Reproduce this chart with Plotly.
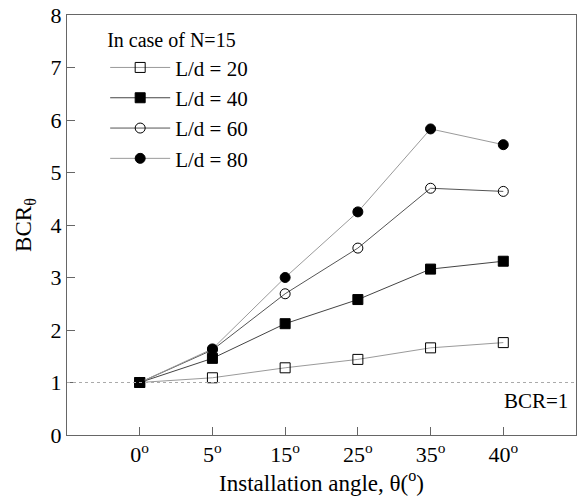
import plotly.graph_objects as go

angles = ["0<sup>o</sup>", "5<sup>o</sup>", "15<sup>o</sup>", "25<sup>o</sup>", "35<sup>o</sup>", "40<sup>o</sup>"]
ld20 = [1.0, 1.09, 1.28, 1.44, 1.66, 1.76]
ld40 = [1.0, 1.46, 2.12, 2.58, 3.16, 3.31]
ld60 = [1.0, 1.62, 2.69, 3.56, 4.70, 4.64]
ld80 = [1.0, 1.64, 3.00, 4.25, 5.83, 5.53]
names = ["L/d = 20", "L/d = 40", "L/d = 60", "L/d = 80"]
series = [ld20, ld40, ld60, ld80]
symbols = ["square-open", "square", "circle-open", "circle"]
linecolors = ["#9a9a9a", "#444444", "#555555", "#9a9a9a"]

FONT = "Liberation Serif"
fig = go.Figure()
for nm, ys, sym, lc in zip(names, series, symbols, linecolors):
    fig.add_trace(go.Scatter(
        x=angles, y=ys, name=nm, mode="lines+markers",
        line=dict(color=lc, width=1),
        marker=dict(symbol=sym, size=10, color="black", line=dict(color="black", width=1)),
    ))

fig.add_hline(y=1, line=dict(color="#aaaaaa", width=1, dash="dot"))
fig.add_annotation(x=1, xref="paper", y=1, yref="y", text="BCR=1", showarrow=False,
                   xanchor="right", yanchor="top", xshift=-6, yshift=-4,
                   font=dict(family=FONT, size=21, color="black"))

fig.update_layout(
    width=579, height=500,
    margin=dict(l=67, r=3, t=15, b=65),
    paper_bgcolor="white", plot_bgcolor="white",
    font=dict(family=FONT, color="black", size=21),
    showlegend=True,
    legend=dict(x=0.075, y=0.985, xanchor="left", yanchor="top",
                bgcolor="rgba(0,0,0,0)", font=dict(family=FONT, size=21),
                title=dict(text="In case of N=15", side="top", font=dict(family=FONT, size=20)),
                tracegroupgap=0, itemwidth=60),
)
fig.update_xaxes(type="category", range=[-1, 6], showline=True, mirror=True,
                 linecolor="#666666", linewidth=1, ticks="inside", ticklen=8,
                 tickcolor="#666666", showgrid=False, zeroline=False,
                 tickfont=dict(family=FONT, size=22),
                 title=dict(text="Installation angle, θ(<sup>o</sup>)", standoff=2,
                            font=dict(family=FONT, size=23)))
fig.update_yaxes(range=[0, 8], dtick=1, showline=True, mirror=True,
                 linecolor="#666666", linewidth=1, ticks="inside", ticklen=8,
                 tickcolor="#666666", showgrid=False, zeroline=False,
                 tickfont=dict(family=FONT, size=22),
                 title=dict(text="BCR<sub>θ</sub>", standoff=12,
                            font=dict(family=FONT, size=23)))

fig.write_html("out.html")
